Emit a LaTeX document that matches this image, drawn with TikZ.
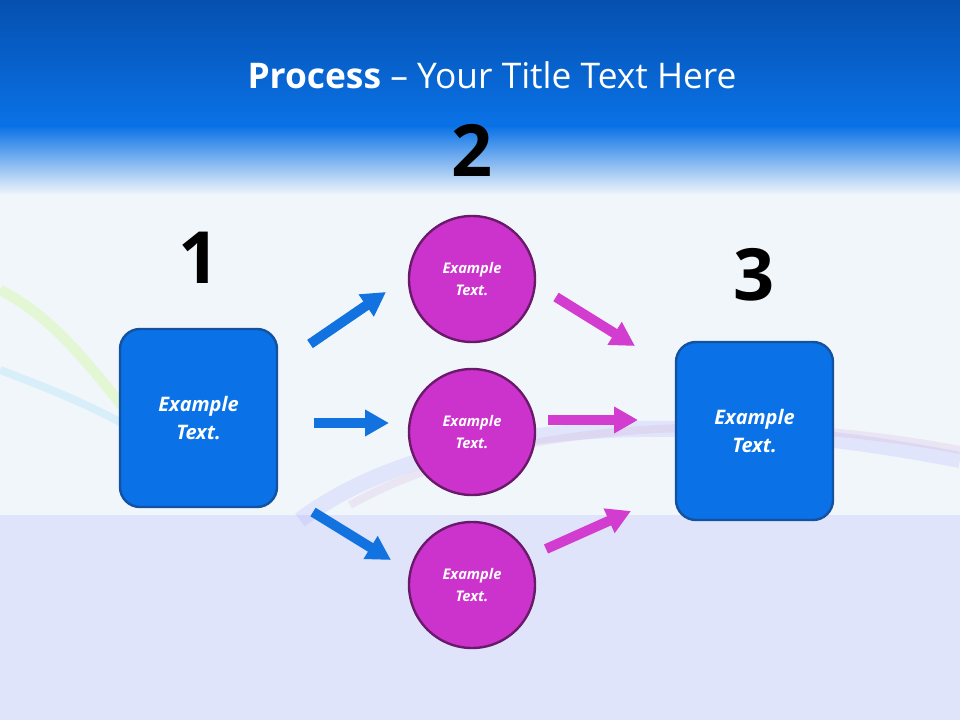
\documentclass[tikz,border=0pt]{standalone}
\usepackage{fontspec}
\setmainfont{Open Sans}
\usetikzlibrary{arrows.meta}
\definecolor{hdrtop}{HTML}{0550B0}
\definecolor{hdrbot}{HTML}{0A72E6}
\definecolor{bg}{HTML}{F1F6FB}
\definecolor{band}{HTML}{E0E4FA}
\definecolor{boxfill}{HTML}{0A72E6}
\definecolor{boxline}{HTML}{1352A0}
\definecolor{circfill}{HTML}{CC33CC}
\definecolor{circline}{HTML}{6A1A6A}
\definecolor{arrblue}{HTML}{1272E0}
\definecolor{arrmag}{HTML}{D23CCF}
\tikzset{
  box/.style={draw=boxline,line width=1.8pt,fill=boxfill,rounded corners=15pt,minimum width=117.75pt,minimum height=133.5pt,text=white,font=\bfseries\itshape\fontsize{15}{21}\selectfont,align=center},
  circ/.style={circle,draw=circline,line width=1.8pt,fill=circfill,minimum size=94.5pt,text=white,font=\bfseries\itshape\fontsize{11}{17}\selectfont,align=center},
  num/.style={font=\bfseries\fontsize{54}{54}\selectfont,text=black},
  barr/.style={line width=7.5pt,arrblue,-{Triangle[length=18pt,width=19pt]}},
  marr/.style={line width=7.5pt,arrmag,-{Triangle[length=18pt,width=19pt]}},
}
\begin{document}
\begin{tikzpicture}[x=0.75pt,y=-0.75pt]
\useasboundingbox (0,0) rectangle (960,720);
\fill[bg] (0,0) rectangle (960,720);
\fill[band] (0,515) rectangle (960,720);
\shade[top color=hdrtop,bottom color=hdrbot] (0,0) rectangle (960,126);
\shade[top color=hdrbot,bottom color=bg] (0,126) rectangle (960,195);
% swooshes
\draw[line width=8pt,green!40!yellow,opacity=0.15] (0,290) .. controls (60,320) and (100,380) .. (150,440);
\draw[line width=6pt,cyan,opacity=0.1] (0,370) .. controls (80,400) and (150,430) .. (200,480);
\draw[line width=12pt,blue!40,opacity=0.18] (300,520) .. controls (420,430) and (650,400) .. (960,460);
\draw[line width=6pt,violet!40,opacity=0.18] (350,505) .. controls (500,420) and (750,410) .. (960,450);
\node[text=white,font=\fontsize{26.5}{30}\selectfont] (title) at (492,75) {\textbf{Process} – Your Title Text Here};
\node[num] (n1) at (199,258) {1};
\node[num] (n2) at (472,150) {2};
\node[num] (n3) at (754,275) {3};
\node[box] (b1) at (198.5,418) {Example\\Text.};
\node[box] (b3) at (754.5,431) {Example\\Text.};
\node[circ] (c1) at (472,279) {Example\\Text.};
\node[circ] (c2) at (472,432) {Example\\Text.};
\node[circ] (c3) at (472,585) {Example\\Text.};
\coordinate (a1s) at (310,344); \coordinate (a1e) at (386,292);
\coordinate (a2s) at (314,423); \coordinate (a2e) at (389,423);
\coordinate (a3s) at (313,512); \coordinate (a3e) at (391,560);
\coordinate (m1s) at (556,297); \coordinate (m1e) at (635,346);
\coordinate (m2s) at (548,420); \coordinate (m2e) at (638,420);
\coordinate (m3s) at (546,549); \coordinate (m3e) at (631,511);
\draw[barr] (a1s) -- (a1e);
\draw[barr] (a2s) -- (a2e);
\draw[barr] (a3s) -- (a3e);
\draw[marr] (m1s) -- (m1e);
\draw[marr] (m2s) -- (m2e);
\draw[marr] (m3s) -- (m3e);
\end{tikzpicture}
\end{document}
